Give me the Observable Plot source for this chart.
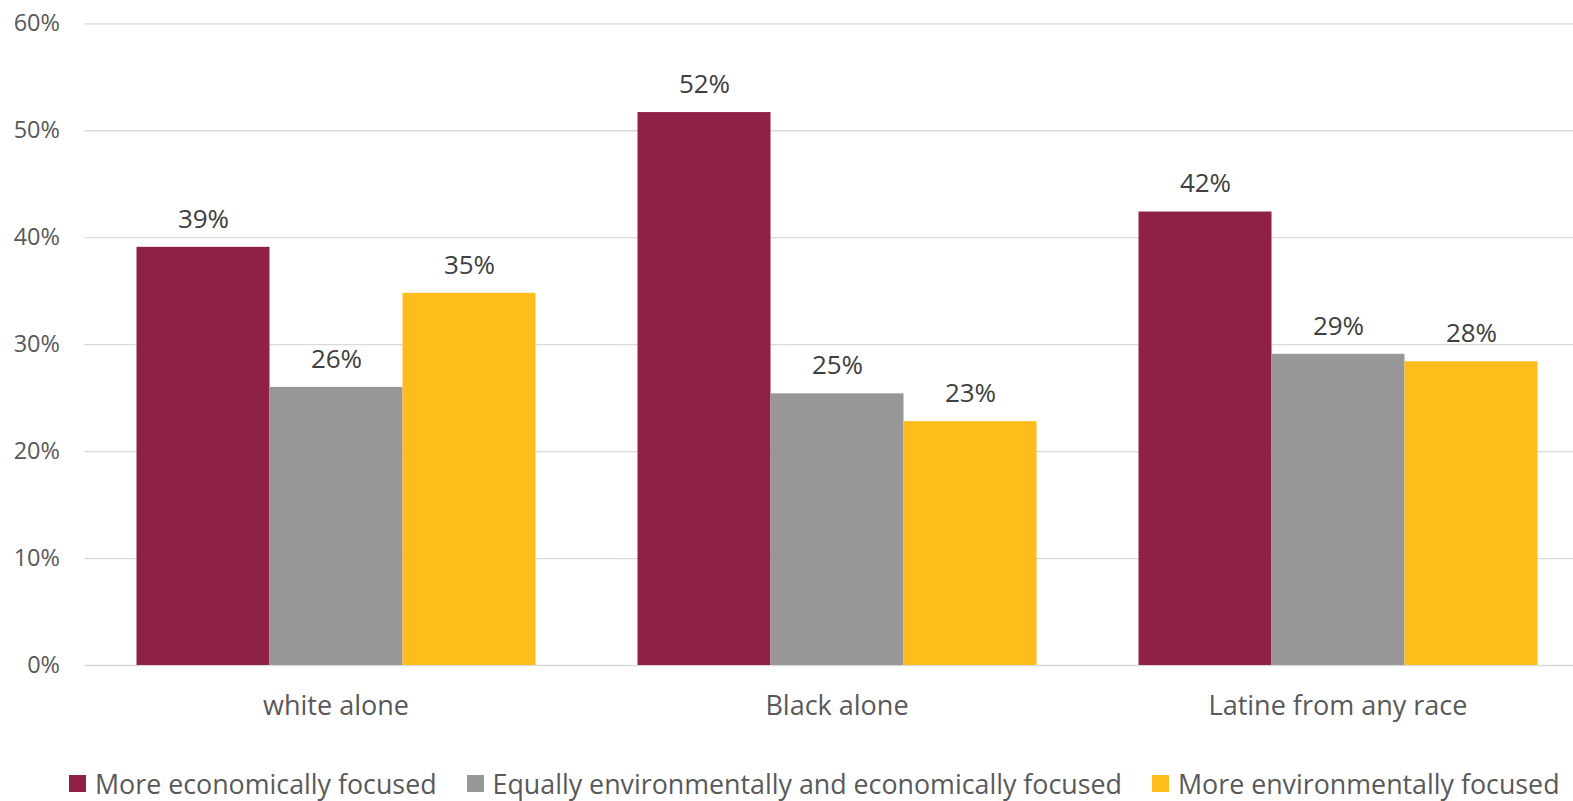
<!DOCTYPE html>
<html>
<head>
<meta charset="utf-8">
<script src="https://cdn.jsdelivr.net/npm/d3@7"></script>
<script src="https://cdn.jsdelivr.net/npm/@observablehq/plot@0.6"></script>
<style>
  html, body { margin: 0; padding: 0; background: #fff; }
  body { width: 1573px; height: 801px; position: relative; overflow: hidden; font-family: "Open Sans", sans-serif; }
  #bg, #fg { position: absolute; left: 0; top: 0; }
  #legend { position: absolute; left: 69px; top: 768px; height: 30px; display: flex; align-items: center; font-size: 26.8px; color: #595959; white-space: nowrap; }
  .item { display: flex; align-items: center; margin-right: 30px; }
  .sw { width: 17px; height: 17px; margin-right: 9px; }
</style>
</head>
<body>
<div id="bg"></div>
<div id="fg"></div>
<div id="legend"></div>
<script>
const groups = ["white alone", "Black alone", "Latine from any race"];
const series = ["More economically focused", "Equally environmentally and economically focused", "More environmentally focused"];
const colors = ["#8F2146", "#979797", "#FEBD1B"];
const economic = [39.1, 51.7, 42.4];
const equal = [26.0, 25.4, 29.1];
const environmental = [34.8, 22.8, 28.4];
const yTicks = [0, 10, 20, 30, 40, 50, 60];

const seriesValues = [economic, equal, environmental];
const data = [];
groups.forEach((g, i) => {
  series.forEach((s, j) => data.push({group: g, series: s, value: seriesValues[j][i]}));
});

const common = {
  width: 1573,
  height: 750,
  marginLeft: 84.5,
  marginRight: -14.5,
  marginTop: 23.3,
  marginBottom: 85,
  y: {domain: [0, 60], axis: null}
};

// Background layer: gridlines and y axis across the whole frame
const bg = Plot.plot({
  ...common,
  style: {fontFamily: "Open Sans, sans-serif", background: "#fff", overflow: "visible"},
  marks: [
    Plot.ruleY(yTicks, {y: d => d, stroke: "#d9d9d9", strokeWidth: 1.3}),
    Plot.axisY(yTicks, {tickFormat: d => d + "%", tickSize: 0, tickPadding: 25, fontSize: 23.5, fill: "#595959", label: null})
  ]
});
document.getElementById("bg").appendChild(bg);

// Foreground layer: grouped bars via fx facets
const fg = Plot.plot({
  ...common,
  style: {fontFamily: "Open Sans, sans-serif", background: "transparent"},
  fx: {domain: groups, paddingInner: 0.2, paddingOuter: 0.1, label: null},
  x: {domain: series, padding: 0, axis: null},
  color: {domain: series, range: colors},
  marks: [
    Plot.barY(data, {fx: "group", x: "series", y: "value", fill: "series"}),
    Plot.text(data, {fx: "group", x: "series", y: "value", text: d => Math.round(d.value) + "%", dy: -28, fontSize: 26, fill: "#404040"}),
    Plot.axisFx({anchor: "bottom", tickSize: 0, tickPadding: 30, fontSize: 27, fill: "#595959", label: null})
  ]
});
document.getElementById("fg").appendChild(fg);

const legend = document.getElementById("legend");
series.forEach((s, i) => {
  const item = document.createElement("div");
  item.className = "item";
  const sw = document.createElement("div");
  sw.className = "sw";
  sw.style.background = colors[i];
  const t = document.createElement("span");
  t.textContent = s;
  item.appendChild(sw);
  item.appendChild(t);
  legend.appendChild(item);
});
</script>
</body>
</html>
